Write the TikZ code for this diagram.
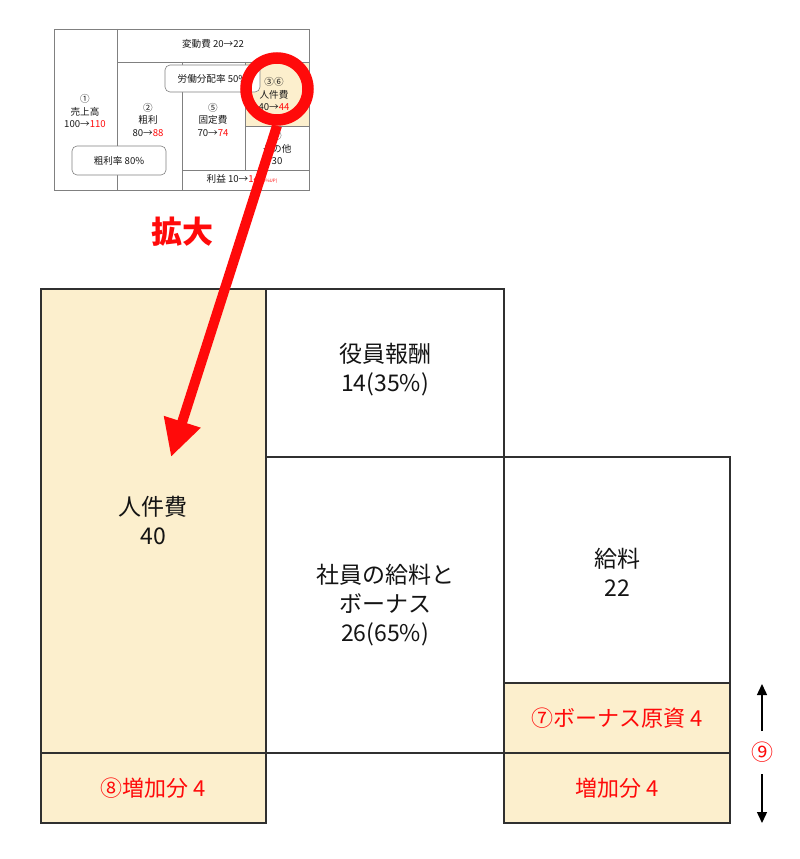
\documentclass[tikz,border=0pt]{standalone}
\usepackage{fontspec}
\setmainfont{Noto Sans CJK JP}
\usetikzlibrary{arrows.meta}
\definecolor{cream}{HTML}{FCEFCD}
\definecolor{lineg}{HTML}{303030}
\definecolor{thing}{HTML}{808080}
\definecolor{myred}{HTML}{FF0A0A}
\begin{document}
\begin{tikzpicture}[x=1pt,y=-1pt,
  big/.style={draw=lineg, line width=1.5pt},
  bigtxt/.style={font=\fontsize{23}{29}\selectfont, align=center, text=black!92, inner sep=0},
  redtxt/.style={font=\fontsize{22}{28}\selectfont, text=myred, inner sep=0},
  small/.style={draw=thing, line width=0.6pt},
  smalltxt/.style={font=\fontsize{9.6}{12.5}\selectfont, align=center, text=black!90, inner sep=0},
  rbox/.style={draw=thing, line width=0.6pt, rounded corners=5pt, fill=white, inner sep=0,
    font=\fontsize{9.6}{12.5}\selectfont, text=black!90},
  smallarrow/.style={draw=black, line width=1.4pt, -{Triangle[length=11pt,width=10pt]}}
]
\useasboundingbox (0,0) rectangle (800,859);

% ---------- small overview diagram ----------
\fill[cream] (245,62) rectangle (309,126);
\draw[small] (54,29) rectangle (309,190);
\draw[small] (117,29) -- (117,190);
\draw[small] (117,62) -- (309,62);
\draw[small] (182,62) -- (182,190);
\draw[small] (245,62) -- (245,170);
\draw[small] (245,126) -- (309,126);
\draw[small] (182,170) -- (309,170);

\node[smalltxt] (hendo) at (213,44) {変動費 20→22};
\node[smalltxt] (uriage) at (85,111.5) {①\\売上高\\100→\textcolor{myred}{110}};
\node[smalltxt] (arari) at (148,120) {②\\粗利\\80→\textcolor{myred}{88}};
\node[smalltxt] (kotei) at (213,120) {⑤\\固定費\\70→\textcolor{myred}{74}};
\node[smalltxt] (jinkenS) at (274,94.5) {③⑥\\人件費\\40→\textcolor{myred}{44}};
\node[smalltxt] (sonota) at (277,148) {④\\その他\\30};
\node[smalltxt] (rieki) at (242,178.5) {利益 10→\textcolor{myred}{14}{\fontsize{4.5}{5}\selectfont\color{myred}(40\%UP)}};
\node[rbox, minimum width=94pt, minimum height=29pt] (ararir) at (119,160.5) {粗利率 80\%};
\node[rbox, minimum width=95pt, minimum height=27pt] (rodo) at (212.5,78.5) {労働分配率 50\%};

% ---------- big diagram ----------
\draw[big, fill=cream] (41,289) rectangle (266,753);
\draw[big] (266,289) rectangle (504,457);
\draw[big] (266,457) rectangle (504,753);
\draw[big] (504,457) rectangle (730,683);
\draw[big, fill=cream] (504,683) rectangle (730,753);
\draw[big, fill=cream] (41,753) rectangle (266,823);
\draw[big, fill=cream] (504,753) rectangle (730,823);

\node[bigtxt] (yakuin) at (385,370) {役員報酬\\14(35\%)};
\node[bigtxt] (jinken) at (153,520) {人件費\\40};
\node[bigtxt] (shain) at (385,605) {社員の給料と\\ボーナス\\26(65\%)};
\node[bigtxt] (kyuryo) at (617,572) {給料\\22};
\node[redtxt] (bonus) at (617,718) {⑦ボーナス原資 4};
\node[redtxt] (zouka8) at (153,788) {⑧増加分 4};
\node[redtxt] (zouka) at (617,788) {増加分 4};

\node[redtxt] (nine) at (762,752) {⑨};
\coordinate (upEnd) at (762,684);
\coordinate (downEnd) at (762,823);
\draw[smallarrow] (762,731) -- (upEnd);
\draw[smallarrow] (762,774) -- (downEnd);

% ---------- red magnifier ----------
\node[circle, draw=myred, line width=11.5pt, minimum size=62pt, inner sep=0] (ring) at (277,89) {};
\coordinate (tip) at (171,457);
\draw[myred, line width=10pt, -{Triangle[length=37pt,width=36pt]}] (ring.south) -- (tip);
\node[font=\fontsize{31}{31}\selectfont\bfseries, text=myred] (kakudai) at (182,232) {拡大};
\end{tikzpicture}
\end{document}
